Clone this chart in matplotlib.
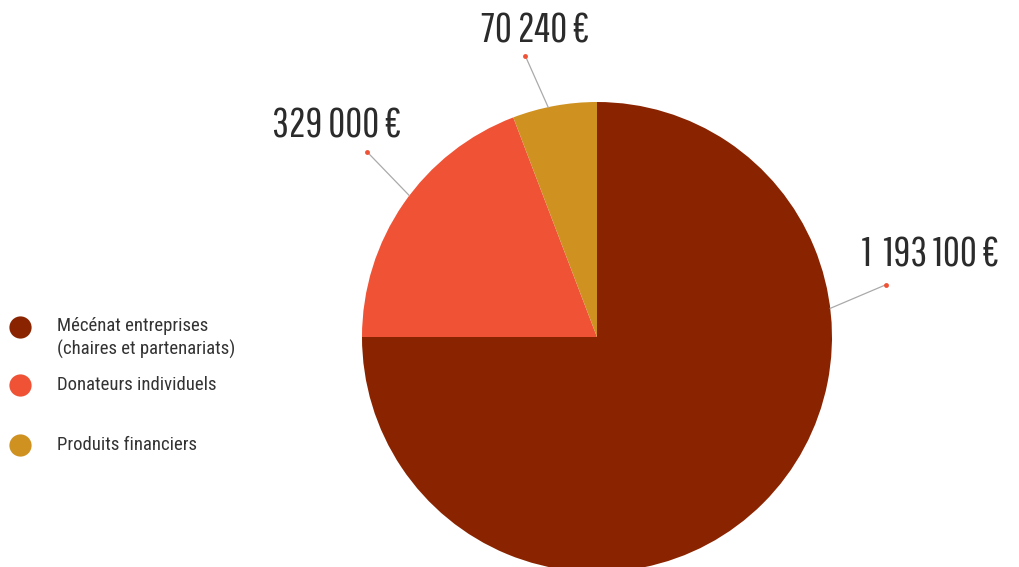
import numpy as np
import matplotlib.pyplot as plt
from matplotlib import font_manager

# Donnees ------------------------------------------------------------------
categories = ['Mécénat entreprises\n(chaires et partenariats)', 'Donateurs individuels', 'Produits financiers']
montants = [1193100, 329000, 70240]
etiquettes = ['1 193 100 €', '329 000 €', '70 240 €']
# parts telles que dessinees sur la figure (en %)
parts = [75.0, 19.2, 5.8]
couleurs = ['#8a2400', '#ef5235', '#cf9221']

fams = set(f.name for f in font_manager.fontManager.ttflist)
police = 'Pathway Gothic One' if 'Pathway Gothic One' in fams else 'DejaVu Sans'
police2 = 'Roboto Condensed' if 'Roboto Condensed' in fams else 'DejaVu Sans'
plt.rcParams['font.family'] = [police2, 'DejaVu Sans']

W, H = 1020, 567
fig = plt.figure(figsize=(W/100, H/100), dpi=100)
ax = fig.add_axes([0, 0, 1, 1])

centre = (597, H - 337)
rayon = 235
wedges, _ = ax.pie(parts, colors=couleurs, startangle=90, counterclock=False,
                   center=centre, radius=rayon, frame=True,
                   wedgeprops=dict(linewidth=0))
ax.set_xlim(0, W)
ax.set_ylim(0, H)
ax.set_aspect('equal')
ax.axis('off')

# etiquettes : angle d'ancrage sur le bord, longueur et angle du trait, decalage du texte
ancrages = [7, 143, 102]
traits = [(61, 23), (61, 134), (56, 114)]
textes = [(-24, 30), (-95, 26), (-44, 25)]
for w, lab, a, (lg, ang), (dx, dy) in zip(wedges, etiquettes, ancrages, traits, textes):
    x0 = centre[0] + rayon*np.cos(np.radians(a))
    y0 = centre[1] + rayon*np.sin(np.radians(a))
    x1 = x0 + lg*np.cos(np.radians(ang))
    y1 = y0 + lg*np.sin(np.radians(ang))
    ax.plot([x0, x1], [y0, y1], color='#aaaaaa', lw=0.9)
    ax.plot(x1, y1, 'o', color='#ef5235', ms=3.5, mec='none')
    ax.text(x1 + dx, y1 + dy, lab.replace(' ', '  ', 1) if lab.startswith('1 ') else lab,
            fontsize=30, color='#2b2b2b', ha='left', va='center',
            family=[police, 'DejaVu Sans'])

# legende
ys = [327, 385, 445]
for cat, c, y in zip(categories, couleurs, ys):
    ax.plot(20, H - y, 'o', color=c, ms=16, mec='none', clip_on=False)
    if '\n' in cat:
        ax.text(57, H - y + 10, cat, fontsize=13.5, color='#333333', ha='left', va='top', linespacing=1.35)
    else:
        ax.text(57, H - y, cat, fontsize=13.5, color='#333333', ha='left', va='center')

fig.savefig('out.png', dpi=100)
